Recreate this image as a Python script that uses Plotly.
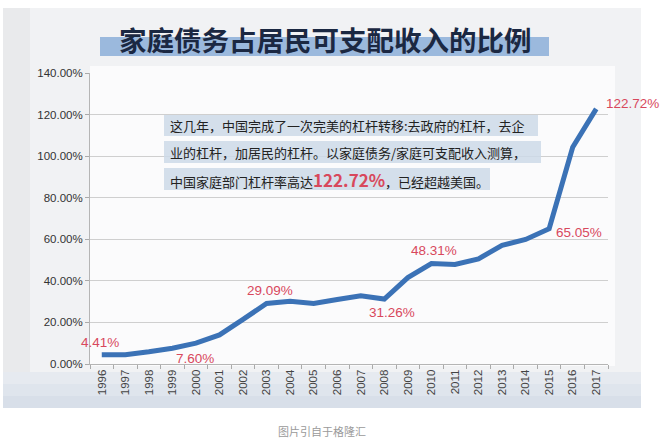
import plotly.graph_objects as go

years = [str(y) for y in range(1996, 2018)]
ratio = [4.41, 4.5, 5.9, 7.60, 10.0, 14.0, 21.5, 29.09, 30.2, 29.1, 31.0, 32.8,
         31.26, 41.6, 48.31, 47.9, 50.6, 57.1, 59.9, 65.05, 104.3, 122.72]
label_years = ["1996", "1999", "2003", "2008", "2010", "2015", "2017"]
label_texts = ["4.41%", "7.60%", "29.09%", "31.26%", "48.31%", "65.05%", "122.72%"]
label_shift = [(-2, 12), (23, -10), (3, 13), (8, -13), (3, 13), (30, -4), (36, 5)]
ytick_vals = [0, 20, 40, 60, 80, 100, 120, 140]
ytick_text = ["0.00%", "20.00%", "40.00%", "60.00%", "80.00%", "100.00%", "120.00%", "140.00%"]
title_text = "家庭债务占居民可支配收入的比例"
note_lines = [
    "这几年，中国完成了一次完美的杠杆转移:去政府的杠杆，去企",
    "业的杠杆，加居民的杠杆。以家庭债务/家庭可支配收入测算，",
    "中国家庭部门杠杆率高达<span style='color:#d8485c;font-size:17px'><b>122.72%</b></span>，已经超越美国。",
]
caption = "图片引自于格隆汇"

W, H = 668, 439
L, R, T, B = 90, 608, 73, 364
def px(x):
    return (x - L) / (R - L)
def py(y):
    return (B - y) / (B - T)

RED = "#d8485c"
CJK = "Noto Sans CJK SC"
LAT = "Liberation Sans, Arial, sans-serif"

fig = go.Figure()
fig.add_trace(go.Scatter(x=years, y=ratio, mode="lines",
                         line=dict(color="#3b72b6", width=5, shape="linear"),
                         hoverinfo="skip", showlegend=False))

shapes = []
shapes.append(dict(type="rect", xref="paper", yref="paper", x0=px(3), x1=px(641), y0=py(408), y1=py(8),
                   fillcolor="#f1f2f4", line=dict(width=0), layer="below"))
shapes.append(dict(type="rect", xref="paper", yref="paper", x0=px(3), x1=px(30), y0=py(408), y1=py(8),
                   fillcolor="#e9eaec", line=dict(width=0), layer="below"))
for i, c in enumerate(["#e6eaf0", "#dfe5ed", "#d8dfe9"]):
    shapes.append(dict(type="rect", xref="paper", yref="paper", x0=px(3), x1=px(641),
                       y0=py(408), y1=py(372 + i * 12), fillcolor=c, line=dict(width=0), layer="below"))
shapes.append(dict(type="rect", xref="paper", yref="paper", x0=px(90), x1=px(615), y0=py(366), y1=py(66),
                   fillcolor="#fbfbfc", line=dict(width=0), layer="below"))
shapes.append(dict(type="rect", xref="paper", yref="paper", x0=px(100), x1=px(549), y0=py(56), y1=py(37),
                   fillcolor="#9bb9dd", line=dict(width=0), layer="below"))
for (y0, y1, x1) in [(115, 136, 538), (141, 163, 541), (168, 190, 490)]:
    shapes.append(dict(type="rect", xref="paper", yref="paper", x0=px(164), x1=px(x1), y0=py(y1), y1=py(y0),
                       fillcolor="rgba(205,217,232,0.85)", line=dict(width=0), layer="above"))

annotations = []
annotations.append(dict(text="<b>" + title_text + "</b>", xref="paper", yref="paper", x=px(325), y=py(39),
                        showarrow=False, font=dict(family=CJK, size=27.5, color="#1b2842"),
                        xanchor="center", yanchor="middle"))
for ln, yy in zip(note_lines, [125.5, 152, 179]):
    annotations.append(dict(text=ln, xref="paper", yref="paper", x=px(168), y=py(yy), showarrow=False,
                            font=dict(family=CJK, size=13, color="#222222"), xanchor="left", yanchor="middle"))
for yr, tx, (dx, dy) in zip(label_years, label_texts, label_shift):
    idx = years.index(yr)
    annotations.append(dict(text=tx, x=idx, y=ratio[idx], xref="x", yref="y", showarrow=False,
                            xshift=dx, yshift=dy, font=dict(family=LAT, size=13.5, color=RED),
                            xanchor="center", yanchor="middle"))
annotations.append(dict(text=caption, xref="paper", yref="paper", x=px(322), y=py(431), showarrow=False,
                        font=dict(family=CJK, size=11, color="#9a9a9a"), xanchor="center", yanchor="middle"))

fig.update_layout(
    width=W, height=H,
    margin=dict(l=L, r=W - R, t=T, b=H - B, pad=0),
    paper_bgcolor="white", plot_bgcolor="rgba(0,0,0,0)",
    shapes=shapes, annotations=annotations,
    xaxis=dict(type="category", range=[-0.5, 21.5], tickangle=-90, tickson="boundaries",
               ticks="outside", ticklen=4, tickcolor="#aaaaaa", showgrid=False,
               showline=True, linecolor="#b5b5b5", linewidth=1,
               tickfont=dict(family=LAT, size=11.5, color="#444444")),
    yaxis=dict(range=[0, 140], tickvals=ytick_vals, ticktext=ytick_text, ticks="outside", ticklen=4,
               tickcolor="#aaaaaa", showgrid=True, gridcolor="#cfcfcf", gridwidth=1,
               showline=True, linecolor="#b5b5b5", linewidth=1, zeroline=False,
               tickfont=dict(family=LAT, size=11.5, color="#333333")),
)
fig.write_html("out.html", config={"displayModeBar": False},
               post_script="document.body.style.margin='0px';document.body.style.overflow='hidden';")
